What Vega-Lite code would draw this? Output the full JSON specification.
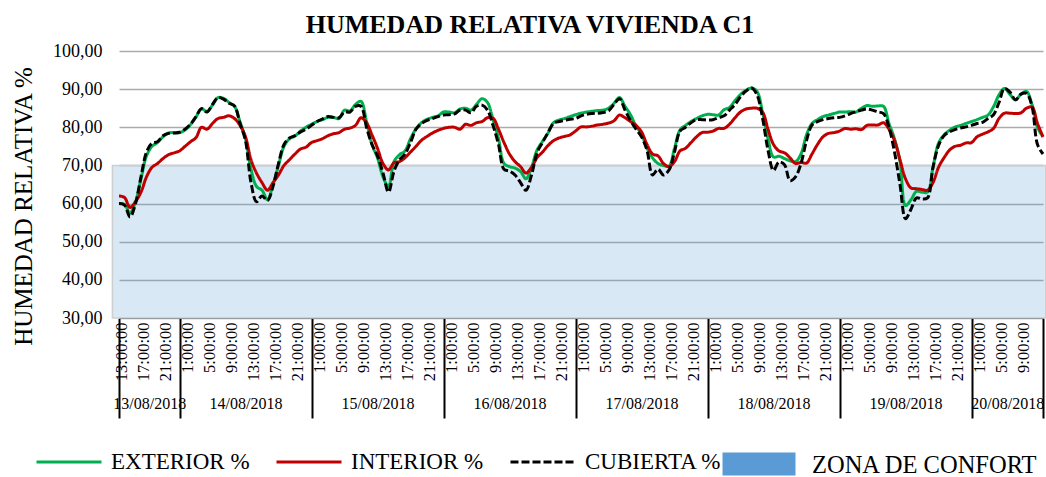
{
"$schema": "https://vega.github.io/schema/vega-lite/v6.json",
"width": 924, "height": 267,
"autosize": {"type": "none"},
"padding": {"left": 119, "top": 51, "right": 3, "bottom": 159},
"background": "white",
"title": {"text": "HUMEDAD RELATIVA VIVIENDA C1", "font": "Liberation Serif", "fontSize": 26, "fontWeight": "bold", "color": "black", "anchor": "middle", "dx": -51, "baseline": "alphabetic", "offset": -17},
"config": {"view": {"stroke": null}, "font": "Liberation Serif",
 "axisY": {"values": [30, 40, 50, 60, 70, 80, 90, 100], "labelExpr": "replace(format(datum.value, '.2f'), '.', ',')", "labelFont": "Liberation Serif", "labelFontSize": 18, "labelColor": "black", "labelPadding": 17, "ticks": false, "domain": false, "grid": true, "gridColor": "#ABABAB", "gridWidth": 1.5, "titleFont": "Liberation Serif", "titleFontSize": 25, "titleFontWeight": "normal", "titleColor": "black", "titlePadding": 16, "titleY": 155}},
"resolve": {"axis": {"x": "independent", "y": "shared"}},
"layer": [
{
"data": {"values": [{"x0": 11.8, "x1": 181.5, "y0": 30, "y1": 70, "zona": "ZONA DE CONFORT"}]},
"mark": {"type": "rect", "fillOpacity": 0.23, "strokeWidth": 0},
"encoding": {
"x": {"field": "x0", "type": "quantitative", "scale": {"domain": [13, 181], "nice": false, "zero": false},
 "axis": {"orient": "bottom", "values": [13, 24, 48, 72, 96, 120, 144, 168, 181], "labels": false, "domain": false, "grid": false, "ticks": true, "tickSize": 100, "tickWidth": 2, "tickColor": "black", "title": null}},
"x2": {"field": "x1"},
"y": {"field": "y0", "type": "quantitative", "scale": {"domain": [30, 100], "nice": false, "zero": false}, "axis": {"title": "HUMEDAD RELATIVA %"}},
"y2": {"field": "y1"},
"fill": {"field": "zona", "type": "nominal", "scale": {"range": ["#5B9BD5"]},
 "legend": {"title": null, "orient": "none", "legendX": 617, "legendY": 390, "symbolType": "M-1.6,-0.5H1.6V0.5H-1.6Z", "symbolSize": 2080, "symbolOpacity": 1, "symbolStrokeWidth": 0, "labelFont": "Liberation Serif", "labelFontSize": 24.5, "labelColor": "black", "labelBaseline": "middle", "labelOffset": 30, "labelLimit": 400, "padding": 0,
  "encode": {"labels": {"update": {"dy": {"value": 2}}}}}}
}
},
{
"data": {"values": [{"x0": 11.8, "x1": 181.5, "y0": 30, "y1": 70}]},
"mark": {"type": "rect", "filled": false, "stroke": "#CFCFCF", "strokeWidth": 1.5},
"encoding": {
"x": {"field": "x0", "type": "quantitative", "scale": {"domain": [13, 181], "nice": false, "zero": false},
 "axis": {"orient": "bottom", "values": [18.5, 36, 60, 84, 108, 132, 156, 174.5], "ticks": false, "domain": false, "grid": false, "labelExpr": "(13 + floor(datum.value/24)) + '/08/2018'", "labelFont": "Liberation Serif", "labelFontSize": 16, "labelPadding": 77, "labelColor": "black", "title": null, "labelOverlap": false, "labelFlush": false, "labelBound": false}},
"x2": {"field": "x1"},
"y": {"field": "y0", "type": "quantitative", "scale": {"domain": [30, 100], "nice": false, "zero": false}, "axis": {"title": "HUMEDAD RELATIVA %"}},
"y2": {"field": "y1"}
}
},
{
"data": {"values": [
{"h":13,"EXTERIOR %":60,"INTERIOR %":62,"CUBIERTA %":60},
{"h":14,"EXTERIOR %":59.8,"INTERIOR %":61.6,"CUBIERTA %":59.6},
{"h":15,"EXTERIOR %":57.5,"INTERIOR %":59,"CUBIERTA %":56.5},
{"h":16,"EXTERIOR %":60.5,"INTERIOR %":60.5,"CUBIERTA %":60},
{"h":17,"EXTERIOR %":66.5,"INTERIOR %":63,"CUBIERTA %":67},
{"h":18,"EXTERIOR %":72.5,"INTERIOR %":67,"CUBIERTA %":73.5},
{"h":19,"EXTERIOR %":75,"INTERIOR %":69.5,"CUBIERTA %":75.8},
{"h":20,"EXTERIOR %":76,"INTERIOR %":70.5,"CUBIERTA %":76.2},
{"h":21,"EXTERIOR %":77.5,"INTERIOR %":71.8,"CUBIERTA %":77.8},
{"h":22,"EXTERIOR %":78.5,"INTERIOR %":72.8,"CUBIERTA %":78.4},
{"h":23,"EXTERIOR %":78.6,"INTERIOR %":73.3,"CUBIERTA %":78.5},
{"h":24,"EXTERIOR %":78.6,"INTERIOR %":73.8,"CUBIERTA %":78.7},
{"h":25,"EXTERIOR %":79.3,"INTERIOR %":75,"CUBIERTA %":79.5},
{"h":26,"EXTERIOR %":80.7,"INTERIOR %":76.2,"CUBIERTA %":80.8},
{"h":27,"EXTERIOR %":82.7,"INTERIOR %":77.3,"CUBIERTA %":82.8},
{"h":28,"EXTERIOR %":84.8,"INTERIOR %":80,"CUBIERTA %":84.9},
{"h":29,"EXTERIOR %":84.2,"INTERIOR %":79.5,"CUBIERTA %":84},
{"h":30,"EXTERIOR %":85.8,"INTERIOR %":81,"CUBIERTA %":86},
{"h":31,"EXTERIOR %":87.8,"INTERIOR %":82.3,"CUBIERTA %":87.8},
{"h":32,"EXTERIOR %":87.6,"INTERIOR %":82.6,"CUBIERTA %":87.4},
{"h":33,"EXTERIOR %":86.5,"INTERIOR %":83,"CUBIERTA %":86.3},
{"h":34,"EXTERIOR %":85.5,"INTERIOR %":82.3,"CUBIERTA %":85.6},
{"h":35,"EXTERIOR %":81.5,"INTERIOR %":80.5,"CUBIERTA %":81},
{"h":36,"EXTERIOR %":77,"INTERIOR %":77.5,"CUBIERTA %":76.5},
{"h":37,"EXTERIOR %":69,"INTERIOR %":71.5,"CUBIERTA %":65.5},
{"h":38,"EXTERIOR %":64.5,"INTERIOR %":68,"CUBIERTA %":60.5},
{"h":39,"EXTERIOR %":63.5,"INTERIOR %":65.5,"CUBIERTA %":62},
{"h":40,"EXTERIOR %":61,"INTERIOR %":63.5,"CUBIERTA %":60.8},
{"h":41,"EXTERIOR %":65,"INTERIOR %":65.5,"CUBIERTA %":64.5},
{"h":42,"EXTERIOR %":70,"INTERIOR %":67.5,"CUBIERTA %":70.5},
{"h":43,"EXTERIOR %":75,"INTERIOR %":70,"CUBIERTA %":75.5},
{"h":44,"EXTERIOR %":77,"INTERIOR %":71.5,"CUBIERTA %":77.2},
{"h":45,"EXTERIOR %":77.7,"INTERIOR %":73,"CUBIERTA %":77.8},
{"h":46,"EXTERIOR %":79,"INTERIOR %":74.3,"CUBIERTA %":78.8},
{"h":47,"EXTERIOR %":80,"INTERIOR %":74.8,"CUBIERTA %":79.5},
{"h":48,"EXTERIOR %":80.8,"INTERIOR %":76,"CUBIERTA %":80.5},
{"h":49,"EXTERIOR %":81.5,"INTERIOR %":76.5,"CUBIERTA %":81.5},
{"h":50,"EXTERIOR %":82,"INTERIOR %":77,"CUBIERTA %":82.2},
{"h":51,"EXTERIOR %":82.6,"INTERIOR %":77.8,"CUBIERTA %":82.8},
{"h":52,"EXTERIOR %":82.6,"INTERIOR %":78.3,"CUBIERTA %":82.6},
{"h":53,"EXTERIOR %":82.3,"INTERIOR %":78.6,"CUBIERTA %":82.5},
{"h":54,"EXTERIOR %":84.5,"INTERIOR %":79.5,"CUBIERTA %":84},
{"h":55,"EXTERIOR %":84.3,"INTERIOR %":79.8,"CUBIERTA %":84},
{"h":56,"EXTERIOR %":86,"INTERIOR %":80.5,"CUBIERTA %":85.5},
{"h":57,"EXTERIOR %":86.8,"INTERIOR %":82.5,"CUBIERTA %":85.5},
{"h":58,"EXTERIOR %":81.5,"INTERIOR %":81.2,"CUBIERTA %":80},
{"h":59,"EXTERIOR %":75.5,"INTERIOR %":78,"CUBIERTA %":75.5},
{"h":60,"EXTERIOR %":72,"INTERIOR %":74.5,"CUBIERTA %":72.5},
{"h":61,"EXTERIOR %":67,"INTERIOR %":70.5,"CUBIERTA %":68},
{"h":62,"EXTERIOR %":64.5,"INTERIOR %":68.8,"CUBIERTA %":63},
{"h":63,"EXTERIOR %":71,"INTERIOR %":70.7,"CUBIERTA %":68.5},
{"h":64,"EXTERIOR %":72.8,"INTERIOR %":71,"CUBIERTA %":71.5},
{"h":65,"EXTERIOR %":73.8,"INTERIOR %":72,"CUBIERTA %":73},
{"h":66,"EXTERIOR %":77,"INTERIOR %":73.5,"CUBIERTA %":76},
{"h":67,"EXTERIOR %":79.6,"INTERIOR %":75,"CUBIERTA %":79.5},
{"h":68,"EXTERIOR %":81.2,"INTERIOR %":76.6,"CUBIERTA %":81},
{"h":69,"EXTERIOR %":82.1,"INTERIOR %":77.6,"CUBIERTA %":81.8},
{"h":70,"EXTERIOR %":82.6,"INTERIOR %":78.5,"CUBIERTA %":82.3},
{"h":71,"EXTERIOR %":83,"INTERIOR %":79.2,"CUBIERTA %":82.8},
{"h":72,"EXTERIOR %":84,"INTERIOR %":79.7,"CUBIERTA %":83.2},
{"h":73,"EXTERIOR %":84,"INTERIOR %":80,"CUBIERTA %":83.3},
{"h":74,"EXTERIOR %":83.8,"INTERIOR %":80,"CUBIERTA %":83.5},
{"h":75,"EXTERIOR %":84.8,"INTERIOR %":79.5,"CUBIERTA %":84.5},
{"h":76,"EXTERIOR %":85,"INTERIOR %":80.8,"CUBIERTA %":84.5},
{"h":77,"EXTERIOR %":84.5,"INTERIOR %":80.5,"CUBIERTA %":83.8},
{"h":78,"EXTERIOR %":86,"INTERIOR %":81.2,"CUBIERTA %":85.5},
{"h":79,"EXTERIOR %":87.5,"INTERIOR %":81.5,"CUBIERTA %":85.8},
{"h":80,"EXTERIOR %":86.5,"INTERIOR %":82.5,"CUBIERTA %":84.5},
{"h":81,"EXTERIOR %":82,"INTERIOR %":82.4,"CUBIERTA %":80.5},
{"h":82,"EXTERIOR %":77,"INTERIOR %":79.5,"CUBIERTA %":75.5},
{"h":83,"EXTERIOR %":70.5,"INTERIOR %":76,"CUBIERTA %":69},
{"h":84,"EXTERIOR %":69.7,"INTERIOR %":73,"CUBIERTA %":68.5},
{"h":85,"EXTERIOR %":69.3,"INTERIOR %":71,"CUBIERTA %":67.5},
{"h":86,"EXTERIOR %":68.4,"INTERIOR %":69.7,"CUBIERTA %":65.5},
{"h":87,"EXTERIOR %":66.5,"INTERIOR %":68,"CUBIERTA %":63.5},
{"h":88,"EXTERIOR %":69.5,"INTERIOR %":69.5,"CUBIERTA %":67.5},
{"h":89,"EXTERIOR %":74,"INTERIOR %":72,"CUBIERTA %":73.3},
{"h":90,"EXTERIOR %":76.3,"INTERIOR %":73.5,"CUBIERTA %":76},
{"h":91,"EXTERIOR %":78.5,"INTERIOR %":75.2,"CUBIERTA %":78.6},
{"h":92,"EXTERIOR %":81.2,"INTERIOR %":76.5,"CUBIERTA %":81},
{"h":93,"EXTERIOR %":81.9,"INTERIOR %":77.2,"CUBIERTA %":81.5},
{"h":94,"EXTERIOR %":82.3,"INTERIOR %":77.6,"CUBIERTA %":81.8},
{"h":95,"EXTERIOR %":82.8,"INTERIOR %":78,"CUBIERTA %":82.1},
{"h":96,"EXTERIOR %":83.3,"INTERIOR %":79,"CUBIERTA %":82.3},
{"h":97,"EXTERIOR %":83.7,"INTERIOR %":80.1,"CUBIERTA %":83},
{"h":98,"EXTERIOR %":84,"INTERIOR %":80.1,"CUBIERTA %":83.4},
{"h":99,"EXTERIOR %":84.2,"INTERIOR %":80.3,"CUBIERTA %":83.6},
{"h":100,"EXTERIOR %":84.4,"INTERIOR %":80.6,"CUBIERTA %":83.7},
{"h":101,"EXTERIOR %":84.5,"INTERIOR %":80.8,"CUBIERTA %":83.9},
{"h":102,"EXTERIOR %":85,"INTERIOR %":81.1,"CUBIERTA %":84.3},
{"h":103,"EXTERIOR %":86.3,"INTERIOR %":81.7,"CUBIERTA %":86},
{"h":104,"EXTERIOR %":87.8,"INTERIOR %":83.2,"CUBIERTA %":87.5},
{"h":105,"EXTERIOR %":85.5,"INTERIOR %":82.5,"CUBIERTA %":84.5},
{"h":106,"EXTERIOR %":83.3,"INTERIOR %":81.5,"CUBIERTA %":81.8},
{"h":107,"EXTERIOR %":80.3,"INTERIOR %":80.5,"CUBIERTA %":79.5},
{"h":108,"EXTERIOR %":78.2,"INTERIOR %":78.8,"CUBIERTA %":77.5},
{"h":109,"EXTERIOR %":74.5,"INTERIOR %":75.5,"CUBIERTA %":74},
{"h":110,"EXTERIOR %":72,"INTERIOR %":73,"CUBIERTA %":67.5},
{"h":111,"EXTERIOR %":70.5,"INTERIOR %":72.5,"CUBIERTA %":69},
{"h":112,"EXTERIOR %":70,"INTERIOR %":70.5,"CUBIERTA %":67.5},
{"h":113,"EXTERIOR %":69.8,"INTERIOR %":69.7,"CUBIERTA %":68.8},
{"h":114,"EXTERIOR %":74.5,"INTERIOR %":71,"CUBIERTA %":73.5},
{"h":115,"EXTERIOR %":79.3,"INTERIOR %":73.8,"CUBIERTA %":79},
{"h":116,"EXTERIOR %":80.5,"INTERIOR %":74.5,"CUBIERTA %":80},
{"h":117,"EXTERIOR %":81.5,"INTERIOR %":76,"CUBIERTA %":81.2},
{"h":118,"EXTERIOR %":82.3,"INTERIOR %":77.5,"CUBIERTA %":82},
{"h":119,"EXTERIOR %":83,"INTERIOR %":78.6,"CUBIERTA %":82},
{"h":120,"EXTERIOR %":83.4,"INTERIOR %":78.7,"CUBIERTA %":81.9},
{"h":121,"EXTERIOR %":83.3,"INTERIOR %":79,"CUBIERTA %":82},
{"h":122,"EXTERIOR %":83.2,"INTERIOR %":79.7,"CUBIERTA %":82.5},
{"h":123,"EXTERIOR %":84.6,"INTERIOR %":79.7,"CUBIERTA %":83},
{"h":124,"EXTERIOR %":85.2,"INTERIOR %":80.8,"CUBIERTA %":84.5},
{"h":125,"EXTERIOR %":87,"INTERIOR %":82.5,"CUBIERTA %":86},
{"h":126,"EXTERIOR %":88.6,"INTERIOR %":84,"CUBIERTA %":88},
{"h":127,"EXTERIOR %":89.7,"INTERIOR %":84.8,"CUBIERTA %":89.5},
{"h":128,"EXTERIOR %":90.3,"INTERIOR %":85,"CUBIERTA %":90.3},
{"h":129,"EXTERIOR %":89.4,"INTERIOR %":85,"CUBIERTA %":88.5},
{"h":130,"EXTERIOR %":84,"INTERIOR %":84,"CUBIERTA %":82.5},
{"h":131,"EXTERIOR %":77,"INTERIOR %":79.5,"CUBIERTA %":74},
{"h":132,"EXTERIOR %":72.2,"INTERIOR %":75.5,"CUBIERTA %":68.7},
{"h":133,"EXTERIOR %":72.4,"INTERIOR %":73.8,"CUBIERTA %":70.9},
{"h":134,"EXTERIOR %":71.8,"INTERIOR %":73.3,"CUBIERTA %":70.2},
{"h":135,"EXTERIOR %":71.2,"INTERIOR %":72,"CUBIERTA %":66},
{"h":136,"EXTERIOR %":71,"INTERIOR %":70.5,"CUBIERTA %":67},
{"h":137,"EXTERIOR %":73,"INTERIOR %":70.8,"CUBIERTA %":70.5},
{"h":138,"EXTERIOR %":78,"INTERIOR %":70.6,"CUBIERTA %":76.5},
{"h":139,"EXTERIOR %":81,"INTERIOR %":73,"CUBIERTA %":80.6},
{"h":140,"EXTERIOR %":82,"INTERIOR %":75.5,"CUBIERTA %":81.5},
{"h":141,"EXTERIOR %":82.8,"INTERIOR %":77.5,"CUBIERTA %":82},
{"h":142,"EXTERIOR %":83.2,"INTERIOR %":78.4,"CUBIERTA %":82.3},
{"h":143,"EXTERIOR %":83.6,"INTERIOR %":78.6,"CUBIERTA %":82.5},
{"h":144,"EXTERIOR %":84,"INTERIOR %":79,"CUBIERTA %":82.6},
{"h":145,"EXTERIOR %":84,"INTERIOR %":79.7,"CUBIERTA %":83},
{"h":146,"EXTERIOR %":84.1,"INTERIOR %":79.5,"CUBIERTA %":83.6},
{"h":147,"EXTERIOR %":84,"INTERIOR %":79.6,"CUBIERTA %":84.1},
{"h":148,"EXTERIOR %":85,"INTERIOR %":79.4,"CUBIERTA %":84.5},
{"h":149,"EXTERIOR %":85.7,"INTERIOR %":80.5,"CUBIERTA %":84.8},
{"h":150,"EXTERIOR %":85.5,"INTERIOR %":80.6,"CUBIERTA %":84.5},
{"h":151,"EXTERIOR %":85.6,"INTERIOR %":80.6,"CUBIERTA %":84},
{"h":152,"EXTERIOR %":85.5,"INTERIOR %":81.2,"CUBIERTA %":83.6},
{"h":153,"EXTERIOR %":81,"INTERIOR %":79.5,"CUBIERTA %":80},
{"h":154,"EXTERIOR %":77,"INTERIOR %":76.5,"CUBIERTA %":73.5},
{"h":155,"EXTERIOR %":71,"INTERIOR %":71.5,"CUBIERTA %":65},
{"h":156,"EXTERIOR %":59.5,"INTERIOR %":66.5,"CUBIERTA %":56},
{"h":157,"EXTERIOR %":61,"INTERIOR %":64.1,"CUBIERTA %":58.5},
{"h":158,"EXTERIOR %":63.2,"INTERIOR %":63.9,"CUBIERTA %":61.5},
{"h":159,"EXTERIOR %":63,"INTERIOR %":63.7,"CUBIERTA %":61.2},
{"h":160,"EXTERIOR %":63,"INTERIOR %":63.5,"CUBIERTA %":61.5},
{"h":161,"EXTERIOR %":69.5,"INTERIOR %":65.5,"CUBIERTA %":69.5},
{"h":162,"EXTERIOR %":75.8,"INTERIOR %":69.5,"CUBIERTA %":75.2},
{"h":163,"EXTERIOR %":78,"INTERIOR %":72,"CUBIERTA %":77.8},
{"h":164,"EXTERIOR %":79.2,"INTERIOR %":74,"CUBIERTA %":78.8},
{"h":165,"EXTERIOR %":80.1,"INTERIOR %":75,"CUBIERTA %":79.4},
{"h":166,"EXTERIOR %":80.5,"INTERIOR %":75.3,"CUBIERTA %":79.8},
{"h":167,"EXTERIOR %":81,"INTERIOR %":75.9,"CUBIERTA %":80.1},
{"h":168,"EXTERIOR %":81.5,"INTERIOR %":76,"CUBIERTA %":80.5},
{"h":169,"EXTERIOR %":82,"INTERIOR %":77.5,"CUBIERTA %":81},
{"h":170,"EXTERIOR %":82.6,"INTERIOR %":78.2,"CUBIERTA %":81.3},
{"h":171,"EXTERIOR %":83.2,"INTERIOR %":78.8,"CUBIERTA %":82.3},
{"h":172,"EXTERIOR %":85.4,"INTERIOR %":79.7,"CUBIERTA %":83.3},
{"h":173,"EXTERIOR %":88.5,"INTERIOR %":82.3,"CUBIERTA %":86.5},
{"h":174,"EXTERIOR %":90.2,"INTERIOR %":83.7,"CUBIERTA %":90.2},
{"h":175,"EXTERIOR %":88.6,"INTERIOR %":83.7,"CUBIERTA %":89.2},
{"h":176,"EXTERIOR %":87.2,"INTERIOR %":83.6,"CUBIERTA %":87.2},
{"h":177,"EXTERIOR %":88.7,"INTERIOR %":83.8,"CUBIERTA %":88.7},
{"h":178,"EXTERIOR %":89.4,"INTERIOR %":85,"CUBIERTA %":88.9},
{"h":179,"EXTERIOR %":86,"INTERIOR %":85.3,"CUBIERTA %":85.5},
{"h":180,"EXTERIOR %":80,"INTERIOR %":81,"CUBIERTA %":75.5},
{"h":181,"EXTERIOR %":77.5,"INTERIOR %":77.5,"CUBIERTA %":73}
]},
"transform": [{"fold": ["EXTERIOR %", "INTERIOR %", "CUBIERTA %"], "as": ["serie", "valor"]}],
"mark": {"type": "line", "strokeWidth": 3, "interpolate": "catmull-rom"},
"encoding": {
"x": {"field": "h", "type": "quantitative", "scale": {"domain": [13, 181], "nice": false, "zero": false},
 "axis": {"orient": "bottom", "values": [13.5,17.5,21.5,25.5,29.5,33.5,37.5,41.5,45.5,49.5,53.5,57.5,61.5,65.5,69.5,73.5,77.5,81.5,85.5,89.5,93.5,97.5,101.5,105.5,109.5,113.5,117.5,121.5,125.5,129.5,133.5,137.5,141.5,145.5,149.5,153.5,157.5,161.5,165.5,169.5,173.5,177.5],
  "labelExpr": "(floor(datum.value) % 24) + ':00:00'", "labelAngle": -90, "labelAlign": "right", "labelBaseline": "middle", "labelFont": "Liberation Serif", "labelFontSize": 16.5, "labelColor": "black", "labelPadding": 4, "ticks": false, "domain": true, "domainColor": "black", "domainWidth": 1, "grid": false, "title": null, "labelOverlap": false, "labelFlush": false, "labelBound": false}},
"y": {"field": "valor", "type": "quantitative", "scale": {"domain": [30, 100], "nice": false, "zero": false}, "axis": {"title": "HUMEDAD RELATIVA %"}},
"color": {"field": "serie", "type": "nominal", "scale": {"domain": ["EXTERIOR %", "INTERIOR %", "CUBIERTA %"], "range": ["#00B050", "#C00000", "#000000"]},
 "legend": {"title": null, "orient": "none", "legendX": -84, "legendY": 377, "direction": "horizontal", "symbolType": "stroke", "symbolSize": 4225, "symbolStrokeWidth": 3, "labelFont": "Liberation Serif", "labelFontSize": 23, "labelColor": "black", "labelOffset": 8, "columnPadding": 20, "labelLimit": 300, "padding": 0}},
"strokeDash": {"field": "serie", "type": "nominal", "scale": {"domain": ["EXTERIOR %", "INTERIOR %", "CUBIERTA %"], "range": [[1, 0], [1, 0], [8, 3]]},
 "legend": {"title": null, "orient": "none", "legendX": -84, "legendY": 377, "direction": "horizontal", "symbolType": "stroke", "symbolSize": 4225, "symbolStrokeWidth": 3, "labelFont": "Liberation Serif", "labelFontSize": 23, "labelColor": "black", "labelOffset": 8, "columnPadding": 20, "labelLimit": 300, "padding": 0}}
}
}
]
}
